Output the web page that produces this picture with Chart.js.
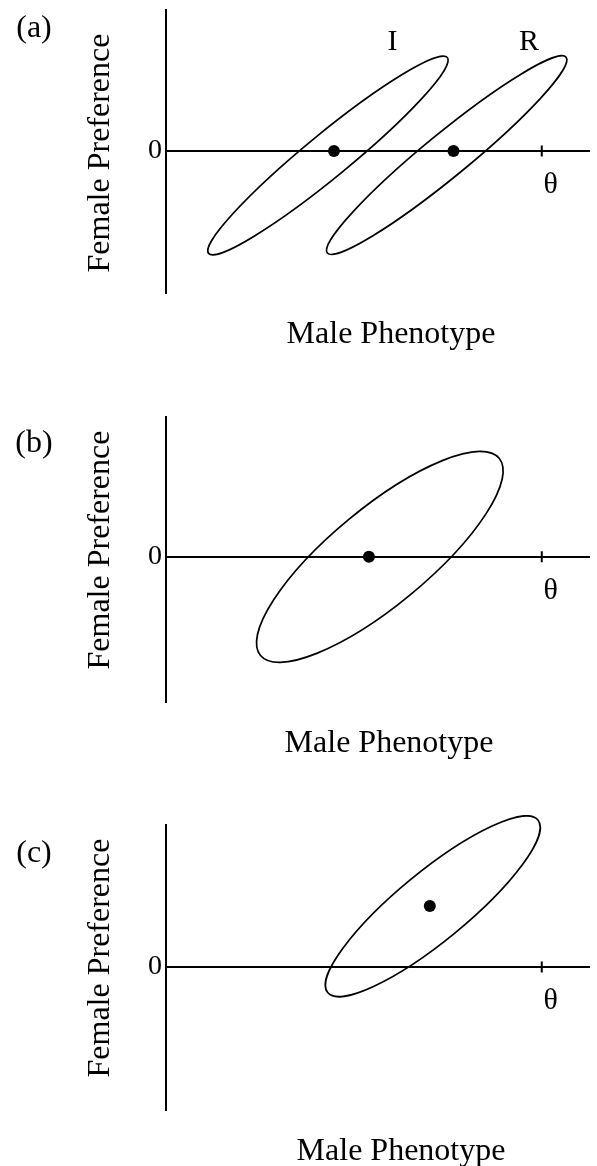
<!DOCTYPE html>
<html>
<head>
<meta charset="utf-8">
<script src="https://cdn.jsdelivr.net/npm/chart.js@4.4.1/dist/chart.umd.min.js"></script>
<style>
  html, body { margin: 0; padding: 0; background: #fff; overflow: hidden; }
  #page { position: relative; width: 597px; height: 1166px; }
  .panel { position: absolute; left: 0; width: 597px; }
</style>
</head>
<body>
<div id="page">
  <div class="panel" style="top:0px;height:353px"><canvas id="panelA"></canvas></div>
  <div class="panel" style="top:407px;height:355px"><canvas id="panelB"></canvas></div>
  <div class="panel" style="top:815px;height:355px"><canvas id="panelC"></canvas></div>
</div>
<script>
// Values. x is in units of theta (optimum = 1),
// y uses the same scale per pixel so the ellipses keep their shape.
const thetaValue = 1;
const xTickValues = [thetaValue];
const xTickLabels = ['θ'];
const yTickValues = [0];
const yTickLabels = ['0'];
const xTitle = 'Male Phenotype';
const yTitle = 'Female Preference';
const panelLetters = ['(a)', '(b)', '(c)'];

// population means (male phenotype, female preference)
const meanA = [{ x: 0.447, y: 0 }, { x: 0.765, y: 0 }];
const meanB = [{ x: 0.540, y: 0 }];
const meanC = [{ x: 0.702, y: 0.162 }];

// variance ellipses: centre, semi-axes, tilt (degrees)
const ellipseA = [
  { cx: 0.431, cy: -0.012, major: 0.410, minor: 0.058, tilt: 39.2 },
  { cx: 0.747, cy: -0.011, major: 0.410, minor: 0.058, tilt: 39.2 }
];
const ellipseB = [{ cx: 0.569, cy: 0, major: 0.411, minor: 0.129, tilt: 39.4 }];
const ellipseC = [{ cx: 0.710, cy: 0.161, major: 0.361, minor: 0.092, tilt: 39.2 }];

// population names in panel (a)
const popNames = ['I', 'R'];
const popNameX = [0.603, 0.966];
const popNameY = [0.267, 0.267];

const SERIF = "'Liberation Serif', 'Times New Roman', serif";
const X_MAX = 1.127;

function panelDecor(cfg) {
  return {
    id: 'panelDecor',
    beforeDatasetsDraw(chart) {
      const { x, y } = chart.scales;
      const ctx = chart.ctx;
      ctx.save();
      ctx.strokeStyle = '#000';
      ctx.lineWidth = 1.7;
      cfg.ellipses.forEach(e => {
        const t = e.tilt * Math.PI / 180;
        const cx = x.getPixelForValue(e.cx);
        const cy = y.getPixelForValue(e.cy);
        const ax = x.getPixelForValue(e.cx + e.major * Math.cos(t)) - cx;
        const ay = y.getPixelForValue(e.cy + e.major * Math.sin(t)) - cy;
        const bx = x.getPixelForValue(e.cx - e.minor * Math.sin(t)) - cx;
        const by = y.getPixelForValue(e.cy + e.minor * Math.cos(t)) - cy;
        ctx.beginPath();
        ctx.ellipse(cx, cy, Math.hypot(ax, ay), Math.hypot(bx, by), Math.atan2(ay, ax), 0, Math.PI * 2);
        ctx.stroke();
      });
      ctx.restore();
    },
    afterDraw(chart) {
      const { x, y } = chart.scales;
      const area = chart.chartArea;
      const ctx = chart.ctx;
      ctx.save();
      ctx.fillStyle = '#000';
      ctx.font = '32px ' + SERIF;
      ctx.textAlign = 'center';
      ctx.textBaseline = 'middle';
      ctx.fillText(cfg.letter, 34, cfg.letterY);
      // axis titles
      ctx.save();
      ctx.translate(101, area.top + cfg.yTitleDy);
      ctx.rotate(-Math.PI / 2);
      ctx.fillText(yTitle, 0, 0);
      ctx.restore();
      ctx.textBaseline = 'alphabetic';
      ctx.fillText(xTitle, cfg.titleX, area.bottom + 50);
      if (cfg.names) {
        ctx.font = '30px ' + SERIF;
        popNames.forEach((n, i) => {
          ctx.fillText(n, x.getPixelForValue(popNameX[i]), y.getPixelForValue(popNameY[i]));
        });
      }
      ctx.restore();
    }
  };
}

function makePanel(id, cfg) {
  new Chart(document.getElementById(id), {
    type: 'scatter',
    data: {
      datasets: [
        {
          data: cfg.means,
          pointRadius: 6,
          pointHoverRadius: 6,
          pointBackgroundColor: '#000',
          pointBorderWidth: 0
        },
        {
          // theta tick mark crossing the axis
          data: xTickValues.map(v => ({ x: v, y: 0 })),
          pointStyle: 'line',
          rotation: 90,
          pointRadius: 5.5,
          pointHoverRadius: 5.5,
          pointBorderColor: '#000',
          pointBorderWidth: 2
        }
      ]
    },
    options: {
      responsive: true,
      maintainAspectRatio: false,
      animation: false,
      events: [],
      layout: { padding: { top: 10, right: 5, bottom: 60, left: 0 } },
      plugins: { legend: { display: false }, tooltip: { enabled: false } },
      scales: {
        x: {
          type: 'linear',
          min: 0,
          max: X_MAX,
          position: { y: 0 },
          afterBuildTicks: s => { s.ticks = xTickValues.map(v => ({ value: v })); },
          afterFit: s => { s.paddingLeft = 0; s.paddingRight = 0; },
          ticks: {
            callback: (v, i) => xTickLabels[i],
            font: { family: SERIF, size: 30 },
            color: '#000',
            padding: 16,
            labelOffset: 9,
            maxRotation: 0,
            autoSkip: false
          },
          grid: { display: false, drawTicks: false },
          border: { color: '#000', width: 2 }
        },
        y: {
          type: 'linear',
          min: cfg.yMin,
          max: cfg.yMax,
          position: 'left',
          afterBuildTicks: s => { s.ticks = yTickValues.map(v => ({ value: v })); },
          afterFit: s => { s.width = 166; s.paddingTop = 0; s.paddingBottom = 0; },
          ticks: {
            callback: (v, i) => yTickLabels[i],
            font: { family: SERIF, size: 28 },
            color: '#000',
            padding: 4
          },
          grid: { display: false, drawTicks: false },
          border: { color: '#000', width: 2 }
        }
      }
    },
    plugins: [panelDecor(cfg)]
  });
}

makePanel('panelA', {
  letter: panelLetters[0], letterY: 29, titleX: 391, yTitleDy: 143, names: true,
  yMin: -0.376, yMax: 0.373, means: meanA, ellipses: ellipseA
});
makePanel('panelB', {
  letter: panelLetters[1], letterY: 37, titleX: 389, yTitleDy: 133, names: false,
  yMin: -0.384, yMax: 0.370, means: meanB, ellipses: ellipseB
});
makePanel('panelC', {
  letter: panelLetters[2], letterY: 39, titleX: 401, yTitleDy: 133, names: false,
  yMin: -0.378, yMax: 0.376, means: meanC, ellipses: ellipseC
});
</script>
</body>
</html>
